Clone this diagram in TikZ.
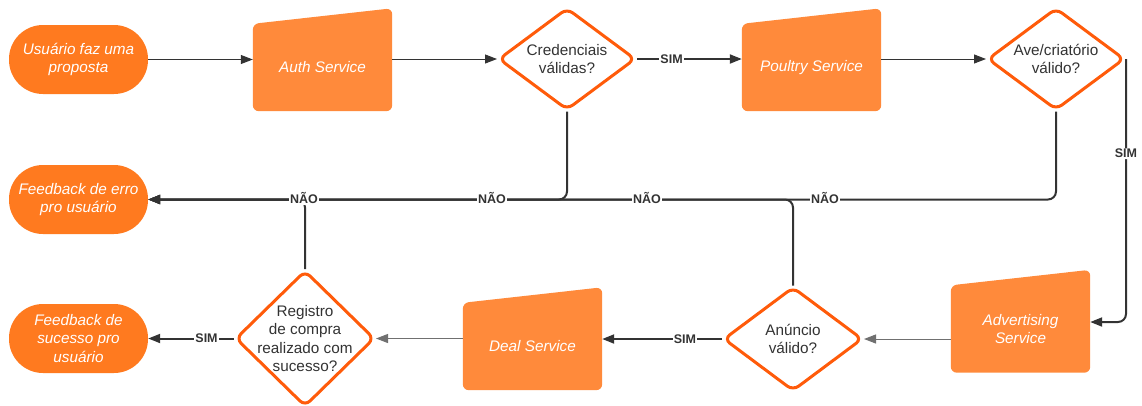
\documentclass[tikz,border=0pt]{standalone}
\usepackage{fontspec}
\setmainfont{Liberation Sans}
\usetikzlibrary{positioning}
\usetikzlibrary{arrows.meta}
\usetikzlibrary{shapes.geometric}
\usetikzlibrary{backgrounds}

\definecolor{termorange}{HTML}{FF7A1F}
\definecolor{serviceorange}{HTML}{FF8A3B}
\definecolor{decisionorange}{HTML}{FF5B0A}
\definecolor{linegray}{HTML}{333333}
\definecolor{softgray}{HTML}{707070}

\tikzset{
    terminal/.style={rectangle, rounded corners=34pt, fill=termorange, minimum width=139pt, minimum height=69pt,
        text=white, font=\fontsize{15.3}{18.5}\selectfont\itshape, align=center, inner sep=0pt},
    service/.style={rectangle, minimum width=139pt, minimum height=87pt,
        text=white, font=\fontsize{15.3}{18.5}\selectfont\itshape, align=center, inner sep=0pt},
    decision/.style={diamond, draw=decisionorange, line width=3pt, rounded corners=7pt, fill=white, inner sep=0pt},
    dtext/.style={text=linegray, font=\fontsize{15.3}{18.5}\selectfont, align=center},
    answer/.style={font=\fontsize{12.5}{14}\selectfont\bfseries, text=linegray, fill=white, inner sep=1pt},
    flow/.style={draw=linegray, line width=1pt, -{Triangle[length=12pt,width=9pt]}},
    pick/.style={flow, line width=2pt},
}

\begin{document}
\begin{tikzpicture}[x=1pt, y=-1pt]

    \useasboundingbox (0,0) rectangle (1142,405);

    % top row
    \node[terminal] (start) at (78.5,59.5) {Usuário faz uma\\proposta};
    \node[service] (auth) at (322.5,67.5) {Auth Service};
    \node[decision, minimum width=137pt, minimum height=102pt, label={[dtext]center:Credenciais\\válidas?}] (cred) at (567,59) {};
    \node[service] (poultry) at (811.5,67.5) {Poultry Service};
    \node[decision, minimum width=137pt, minimum height=102pt, label={[dtext]center:Ave/criatório\\válido?}] (ave) at (1056,59) {};

    % left column
    \node[terminal] (erro) at (78.5,199.5) {Feedback de erro\\pro usuário};
    \node[terminal] (sucesso) at (78.5,338.5) {Feedback de\\sucesso pro\\usuário};

    % bottom row
    \node[decision, minimum width=139pt, minimum height=136pt, label={[dtext]center:Registro\\de compra\\realizado com\\sucesso?}] (reg) at (305,338.5) {};
    \node[service] (deal) at (532.5,346.5) {Deal Service};
    \node[decision, minimum width=139pt, minimum height=104pt, label={[dtext]center:Anúncio\\válido?}] (anuncio) at (793,339) {};
    \node[service] (adv) at (1020.5,329) {Advertising\\Service};

    % slanted service boxes
    \begin{scope}[on background layer]
        \foreach \s in {auth, poultry, deal, adv}
            \fill[serviceorange, rounded corners=6pt] (\s.south west) -- (\s.north west)
                -- ([yshift=15.5pt]\s.north east) -- (\s.south east) -- cycle;
    \end{scope}

    % happy path
    \draw[flow] (start.east) -- (start.east -| auth.west);
    \draw[flow] (auth.east |- cred) -- (cred.west);
    \draw[pick] (cred.east) -- (cred.east -| poultry.west) node[answer, pos=0.33] (sim1) {SIM};
    \draw[flow] (poultry.east |- ave) -- (ave.west);
    \draw[pick, rounded corners=8pt] (ave.east) |- ([yshift=7pt]adv.east) node[answer, pos=0.18] (sim2) {SIM};
    \draw[flow, draw=softgray] (adv.west |- anuncio) -- (anuncio.east);
    \draw[pick] (anuncio.west) -- (anuncio.west -| deal.east) node[answer, pos=0.31] (sim3) {SIM};
    \draw[flow, draw=softgray] (deal.west |- reg) -- (reg.east);
    \draw[pick] (reg.west) -- (reg.west -| sucesso.east) node[answer, pos=0.32] (sim4) {SIM};

    % error paths
    \draw[pick, rounded corners=8pt] (cred.south) |- (erro.east);
    \draw[pick, rounded corners=8pt] (ave.south) |- (erro.east);
    \draw[pick, rounded corners=8pt] (anuncio.north) |- (erro.east);
    \draw[pick, rounded corners=8pt] (reg.north) |- (erro.east);

    \node[answer] (nao1) at (304,198) {NÃO};
    \node[answer] (nao2) at (492,198) {NÃO};
    \node[answer] (nao3) at (647,198) {NÃO};
    \node[answer] (nao4) at (825,198) {NÃO};

\end{tikzpicture}
\end{document}
